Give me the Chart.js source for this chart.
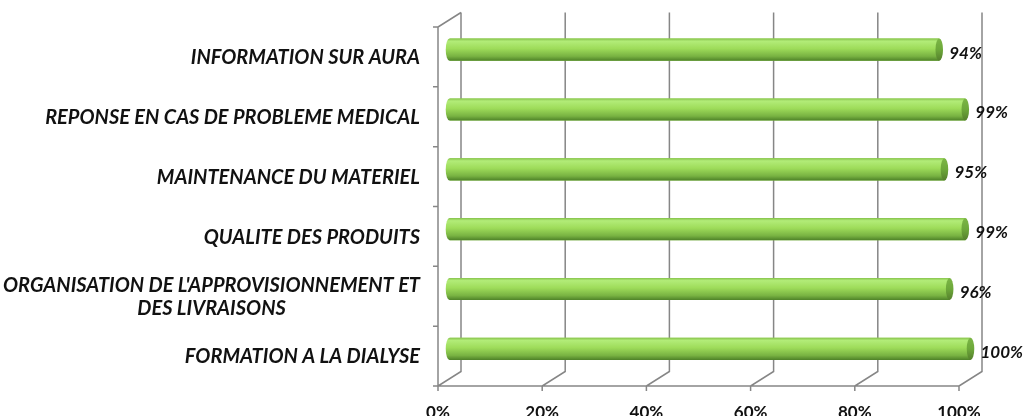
<!DOCTYPE html>
<html>
<head>
<meta charset="utf-8">
<script src="https://cdn.jsdelivr.net/npm/chart.js@4.4.1/dist/chart.umd.min.js"></script>
<style>
  html, body { margin: 0; padding: 0; background: #fff; }
  #wrap { width: 1025px; height: 416px; }
</style>
</head>
<body>
<div id="wrap"><canvas id="satisfactionChart" width="1025" height="416"></canvas></div>
<script>
const categories = [
    'INFORMATION SUR AURA',
    'REPONSE EN CAS DE PROBLEME MEDICAL',
    'MAINTENANCE DU MATERIEL',
    'QUALITE DES PRODUITS',
    ["ORGANISATION DE L'APPROVISIONNEMENT ET", 'DES LIVRAISONS'],
    'FORMATION A LA DIALYSE'
];
const satisfaction = [0.94, 0.99, 0.95, 0.99, 0.96, 1.00];
const tickValues = [0, 0.2, 0.4, 0.6, 0.8, 1.0];

// 3D depth: back wall sits DX right / DY up from the front plane, bars sit halfway
const DX = 23, DY = -14.5;
const LABEL_FONT = 'italic bold 20px Lato';
const TEXT_COLOR = '#111';
const GRID_COLOR = '#868686';

const frame3d = {
    id: 'frame3d',
    beforeDatasetsDraw(chart) {
        const { ctx, chartArea, scales } = chart;
        const x = scales.x;
        const fTop = chartArea.top - DY / 2, fBottom = chartArea.bottom - DY / 2;
        const bTop = chartArea.top + DY / 2, bBottom = chartArea.bottom + DY / 2;
        const front = v => x.getPixelForValue(v) - DX / 2;
        const back = v => x.getPixelForValue(v) + DX / 2;
        ctx.save();
        ctx.strokeStyle = GRID_COLOR;
        ctx.lineWidth = 1.5;
        ctx.beginPath();
        // back wall grid lines + floor diagonals + front ticks
        tickValues.forEach(v => {
            ctx.moveTo(back(v), bTop);
            ctx.lineTo(back(v), bBottom);
            ctx.lineTo(front(v), fBottom);
            ctx.lineTo(front(v), fBottom + 5);
        });
        // front bottom axis
        ctx.moveTo(front(0), fBottom);
        ctx.lineTo(front(1), fBottom);
        // front left axis + top diagonal
        ctx.moveTo(back(0), bTop);
        ctx.lineTo(front(0), fTop);
        ctx.lineTo(front(0), fBottom);
        // category ticks on the left axis
        const band = (fBottom - fTop) / categories.length;
        for (let i = 0; i <= categories.length; i++) {
            ctx.moveTo(front(0) - 5, fTop + i * band);
            ctx.lineTo(front(0), fTop + i * band);
        }
        ctx.stroke();
        ctx.restore();
    },
    afterDatasetsDraw(chart) {
        const { ctx, scales } = chart;
        const meta = chart.getDatasetMeta(0);
        ctx.save();
        meta.data.forEach((bar, i) => {
            const p = bar.getProps(['x', 'y', 'base', 'height'], true);
            const top = p.y - p.height / 2, bottom = p.y + p.height / 2;
            const g = ctx.createLinearGradient(0, top, 0, bottom);
            g.addColorStop(0, '#86c24c');
            g.addColorStop(0.12, '#b2ec78');
            g.addColorStop(0.45, '#9edc5a');
            g.addColorStop(0.8, '#78b242');
            g.addColorStop(1, '#4e8228');
            const rx = p.height * 0.17;
            ctx.fillStyle = g;
            ctx.beginPath();
            ctx.ellipse(p.base, p.y, rx, p.height / 2, 0, Math.PI / 2, Math.PI * 1.5);
            ctx.lineTo(p.x, top);
            ctx.lineTo(p.x, bottom);
            ctx.closePath();
            ctx.fill();
            // end cap
            const cg = ctx.createLinearGradient(0, top, 0, bottom);
            cg.addColorStop(0, '#7cb646');
            cg.addColorStop(0.5, '#6da83a');
            cg.addColorStop(1, '#557f2c');
            ctx.fillStyle = cg;
            ctx.beginPath();
            ctx.ellipse(p.x, p.y, rx, p.height / 2, 0, 0, Math.PI * 2);
            ctx.fill();
            // value label
            ctx.fillStyle = TEXT_COLOR;
            ctx.font = 'italic bold 17px Lato';
            ctx.textAlign = 'left';
            ctx.textBaseline = 'middle';
            ctx.fillText(Math.round(satisfaction[i] * 100) + '%', p.x + 10, p.y + 3.5);
        });
        // category labels, right aligned, multi-line centered on the widest line
        const y = scales.y;
        const right = scales.x.getPixelForValue(0) - DX / 2 - 18;
        ctx.font = LABEL_FONT;
        ctx.textBaseline = 'middle';
        categories.forEach((label, i) => {
            const cy = y.getPixelForValue(i) + 8;
            const lines = Array.isArray(label) ? label : [label];
            const w = Math.max(...lines.map(l => ctx.measureText(l).width));
            const lh = 23;
            lines.forEach((line, j) => {
                const ly = cy + (j - (lines.length - 1) / 2) * lh;
                ctx.textAlign = 'center';
                ctx.fillText(line, right - w / 2, ly);
            });
        });
        ctx.restore();
    }
};

new Chart(document.getElementById('satisfactionChart'), {
    type: 'bar',
    data: {
        labels: categories,
        datasets: [{
            data: satisfaction,
            backgroundColor: '#9edc5a',
            borderWidth: 0,
            categoryPercentage: 1,
            barPercentage: 0.37
        }]
    },
    options: {
        indexAxis: 'y',
        responsive: false,
        animation: false,
        layout: {
            padding: { left: 449.5, right: 54.5, top: 19.75, bottom: 0 }
        },
        scales: {
            x: {
                min: 0,
                max: 1,
                afterFit(scale) { scale.height = 416 - 378.75; },
                afterBuildTicks(scale) { scale.ticks = tickValues.map(v => ({ value: v })); },
                grid: { display: false, drawTicks: false },
                border: { display: false },
                ticks: {
                    padding: 24,
                    labelOffset: -DX / 2,
                    maxRotation: 0,
                    color: TEXT_COLOR,
                    font: { family: 'Lato', size: 17, weight: 'bold' },
                    callback: v => Math.round(v * 100) + '%'
                }
            },
            y: { display: false }
        },
        plugins: {
            legend: { display: false },
            tooltip: { enabled: false }
        }
    },
    plugins: [frame3d]
});
</script>
</body>
</html>
